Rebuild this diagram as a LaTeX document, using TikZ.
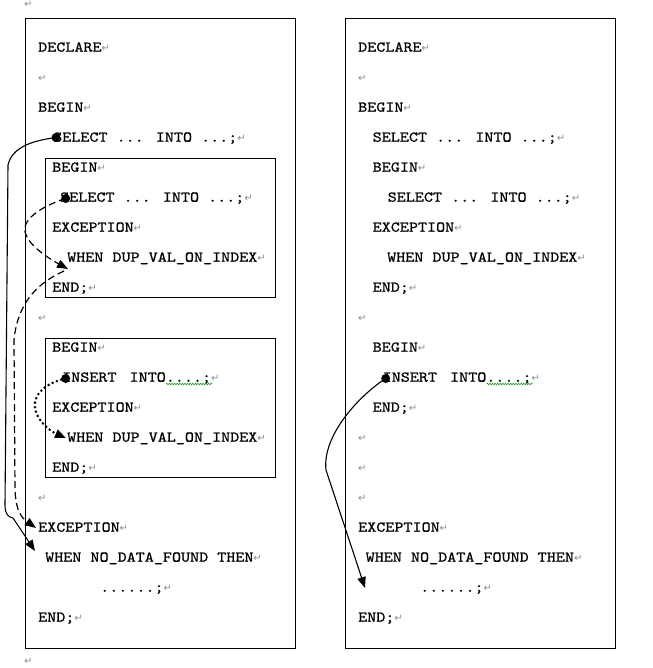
\documentclass[tikz,border=0pt]{standalone}
\usepackage{fontspec}
\usetikzlibrary{arrows.meta,decorations.pathmorphing}
\newfontfamily\codefont{lmmono10-regular.otf}[FakeStretch=1.15,FakeBold=0.8]
\newfontfamily\retfont{DejaVu Sans}
\definecolor{retgray}{HTML}{8C8C8C}
\definecolor{squiggle}{HTML}{2E9A2E}
% paragraph mark printed after each line
\newcommand\rmark{{\retfont\fontsize{10}{10}\selectfont\color{retgray}↵}}
\tikzset{
  code/.style={font=\codefont\fontsize{15}{18}\selectfont, anchor=base west, inner sep=0pt},
  panel/.style={draw=black, line width=1pt},
  startdot/.style={circle, fill=black, inner sep=0pt, minimum size=9pt},
  tip/.style={-{Triangle[length=11pt,width=8.5pt]}},
  flow/.style={tip, line width=1.1pt},
  dashedflow/.style={tip, line width=1.2pt, dash pattern=on 7pt off 4pt},
  dottedflow/.style={tip, line width=2.9pt, line cap=round, dash pattern=on 0pt off 4.6pt},
  wavy/.style={squiggle, line width=0.6pt, decorate,
    decoration={snake, amplitude=0.9pt, segment length=2.6pt}},
}
\begin{document}
\begin{tikzpicture}[x=1pt, y=-1pt]
\useasboundingbox (0,0) rectangle (652,668);

% ---- outer and inner block frames ----
\draw[panel] (25.3,18.3) rectangle (295.3,648.3);
\draw[panel] (45.3,158.3) rectangle (275.3,297.7);
\draw[panel] (45.3,338.3) rectangle (275.3,477.7);
\draw[panel] (345.3,18.3) rectangle (615.3,648.3);

% stray paragraph marks above and below the left frame
\node[code] (topmark) at (24,8) {\rmark};
\node[code] (botmark) at (24,664) {\rmark};

% ---- left listing: nested blocks ----
\node[code] (a0)  at (38,51.7)  {DECLARE\rmark};
\node[code] (a1)  at (38,81.7)  {\rmark};
\node[code] (a2)  at (38,111.7) {BEGIN\rmark};
\node[code] (a3)  at (53,141.7) {SELECT ... INTO ...;\rmark};
\node[code] (a4)  at (52,171.7) {BEGIN\rmark};
\node[code] (a5)  at (60,201.7) {SELECT ... INTO ...;\rmark};
\node[code] (a6)  at (52,231.7) {EXCEPTION\rmark};
\node[code] (a7)  at (67,261.7) {WHEN DUP\_VAL\_ON\_INDEX\rmark};
\node[code] (a8)  at (52,291.7) {END;\rmark};
\node[code] (a9)  at (38,321.7) {\rmark};
\node[code] (a10) at (52,351.7) {BEGIN\rmark};
\node[code] (a11) at (62,381.7) {INSERT\hspace{4pt} INTO....;\rmark};
\node[code] (a12) at (52,411.7) {EXCEPTION\rmark};
\node[code] (a13) at (67,441.7) {WHEN DUP\_VAL\_ON\_INDEX\rmark};
\node[code] (a14) at (52,471.7) {END;\rmark};
\node[code] (a15) at (38,501.7) {\rmark};
\node[code] (a16) at (38,531.7) {EXCEPTION\rmark};
\node[code] (a17) at (45,561.7) {WHEN NO\_DATA\_FOUND THEN\rmark};
\node[code] (a18) at (100,591.7) {......;\rmark};
\node[code] (a19) at (38,621.7) {END;\rmark};

% ---- right listing: flattened blocks ----
\node[code] (b0)  at (358,51.7)  {DECLARE\rmark};
\node[code] (b1)  at (358,81.7)  {\rmark};
\node[code] (b2)  at (358,111.7) {BEGIN\rmark};
\node[code] (b3)  at (372.5,141.7) {SELECT ... INTO ...;\rmark};
\node[code] (b4)  at (372.5,171.7) {BEGIN\rmark};
\node[code] (b5)  at (387.5,201.7) {SELECT ... INTO ...;\rmark};
\node[code] (b6)  at (372.5,231.7) {EXCEPTION\rmark};
\node[code] (b7)  at (387,261.7) {WHEN DUP\_VAL\_ON\_INDEX\rmark};
\node[code] (b8)  at (372.5,291.7) {END;\rmark};
\node[code] (b9)  at (358,321.7) {\rmark};
\node[code] (b10) at (372.5,351.7) {BEGIN\rmark};
\node[code] (b11) at (382.5,381.7) {INSERT\hspace{4pt} INTO....;\rmark};
\node[code] (b12) at (372.5,411.7) {END;\rmark};
\node[code] (b13) at (358,441.7) {\rmark};
\node[code] (b14) at (358,471.7) {\rmark};
\node[code] (b15) at (358,501.7) {\rmark};
\node[code] (b16) at (358,531.7) {EXCEPTION\rmark};
\node[code] (b17) at (365.5,561.7) {WHEN NO\_DATA\_FOUND THEN\rmark};
\node[code] (b18) at (420,591.7) {......;\rmark};
\node[code] (b19) at (358,621.7) {END;\rmark};

% spell-check squiggles under the dots
\draw[wavy] (166,384) -- (212,384);
\draw[wavy] (486.5,384) -- (532.5,384);

% ---- control-flow markers ----
\node[startdot] (d1) at (56,137.5) {};
\node[startdot] (d2) at (65.7,198.5) {};
\node[startdot] (d3) at (65.7,378.5) {};
\node[startdot] (d4) at (385.7,378.5) {};

\coordinate (e1) at (35,551);
\coordinate (e2) at (68,269);
\coordinate (s3) at (64,271);
\coordinate (e3) at (36,528);
\coordinate (e4) at (66,438);
\coordinate (e5) at (365,588);

% outer SELECT jumps to the outer handler
\draw[flow] (d1.center) .. controls (30,141) and (12,148) .. (8,165)
  -- (5,505) .. controls (5,514) and (8,517) .. (13,518) -- (e1);
% inner SELECT jumps to the inner handler, which re-raises outward
\draw[dashedflow] (d2.center) .. controls (45,205) and (22,218) .. (25,232)
  .. controls (28,245) and (48,258) .. (e2);
\draw[dashedflow] (s3) .. controls (40,282) and (18,300) .. (14,340)
  -- (15,490) .. controls (16,512) and (22,518) .. (e3);
% INSERT handled locally
\draw[dottedflow] (d3.center) .. controls (45,383) and (33,395) .. (35,408)
  .. controls (37,422) and (52,432) .. (e4);
% right side: INSERT falls through to the single handler
\draw[flow] (d4.center) .. controls (360,395) and (322,435) .. (326,470) -- (e5);
\end{tikzpicture}
\end{document}
